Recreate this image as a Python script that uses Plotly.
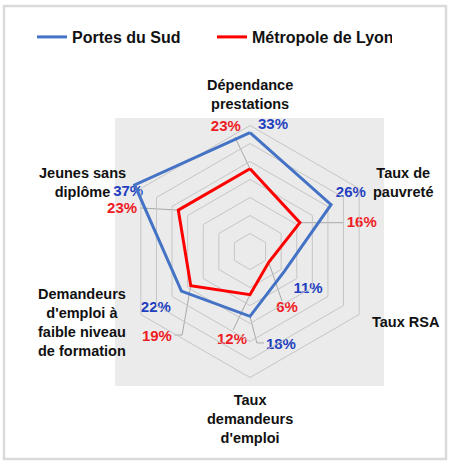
import math
import plotly.graph_objects as go

# ---------------- data ----------------
categories = [
    "Dépendance prestations",
    "Taux de pauvreté",
    "Taux RSA",
    "Taux demandeurs d'emploi",
    "Demandeurs d'emploi à faible niveau de formation",
    "Jeunes sans diplôme",
]
category_labels = [
    "Dépendance<br>prestations",
    "Taux de<br>pauvreté",
    "Taux RSA",
    "Taux<br>demandeurs<br>d'emploi",
    "Demandeurs<br>d'emploi à<br>faible niveau<br>de formation",
    "Jeunes sans<br>diplôme",
]
series_names = ["Portes du Sud", "Métropole de Lyon"]
portes_du_sud = [33, 26, 11, 18, 22, 37]
metropole_lyon = [23, 16, 6, 12, 19, 23]
radial_ticks = [5, 10, 15, 20, 25, 30, 35]

# ---------------- style ----------------
W, H = 449, 462
BLUE_LINE = "#4472C4"
RED_LINE = "#FF0000"
BLUE_TXT = "#1F3FBF"
RED_TXT = "#EE1C25"
GRID = "#C6C6C6"
LEADER = "#A8A8A8"
GRID_MAX = 35          # outermost ring
R_RANGE = 45           # radial range (room for values/labels beyond the outer ring)
RING_PX = 126          # pixel radius of the outer ring
CX, CY = 250, 251.5    # centre of the radar (px)
FONT = "Liberation Sans, Arial, sans-serif"

n = len(categories)
angles = [90 - 360 / n * i for i in range(n)]

# data-label offsets relative to each point, in radial units (dx, dy)
blue_lbl_off = [(6.4, 2.1), (5.5, 3.25), (6.6, -4.9), (8.6, -8.0), (-7.1, -4.7), (-1.8, -2.0)]
red_lbl_off = [(-6.7, 11.6), (17.2, -0.1), (5.1, -12.7), (-5.0, -12.6), (-9.4, -14.3), (-15.6, 0.3)]
# leader-line bend points relative to each point (dx, dy)
blue_leaders = {3: [(1.9, -7.4), (3.9, -7.4)]}
red_leaders = {0: [(-4.2, 8.8)], 1: [(12.0, 0.0)], 2: [(3.7, -10.75)], 3: [(-4.7, -9.8)],
               4: [(-2.4, -13.7), (-4.6, -13.7)], 5: [(-10.6, 0.6)]}

# category label centres (px)
cat_pos = [(250, 94), (403, 182), (406, 322), (250, 419), (82, 322), (82, 183)]


def shifted(r, ang, dx, dy):
    x = r * math.cos(math.radians(ang)) + dx
    y = r * math.sin(math.radians(ang)) + dy
    return math.hypot(x, y), math.degrees(math.atan2(y, x))


fig = go.Figure()

# leader lines and value labels on an overlaid linear polar
for vals, offs, leads, col in [
    (portes_du_sud, blue_lbl_off, blue_leaders, BLUE_TXT),
    (metropole_lyon, red_lbl_off, red_leaders, RED_TXT),
]:
    for i, pts in leads.items():
        rr, tt = [vals[i]], [angles[i]]
        for dx, dy in pts:
            r2, t2 = shifted(vals[i], angles[i], dx, dy)
            rr.append(r2)
            tt.append(t2)
        fig.add_trace(go.Scatterpolar(
            r=rr, theta=tt, mode="lines", subplot="polar",
            line=dict(color=LEADER, width=1), showlegend=False,
            hoverinfo="skip", cliponaxis=False))
    lr, lt = [], []
    for i, v in enumerate(vals):
        r2, t2 = shifted(v, angles[i], *offs[i])
        lr.append(r2)
        lt.append(t2)
    fig.add_trace(go.Scatterpolar(
        r=lr, theta=lt, mode="text", subplot="polar",
        text=[f"{v}%" for v in vals],
        textfont=dict(family=FONT, size=15, color=col, weight="bold"),
        showlegend=False, hoverinfo="skip", cliponaxis=False))

# data series on category polar
for name, vals, col in [
    (series_names[0], portes_du_sud, BLUE_LINE),
    (series_names[1], metropole_lyon, RED_LINE),
]:
    fig.add_trace(go.Scatterpolar(
        r=vals + vals[:1], theta=categories + categories[:1],
        mode="lines", name=name, subplot="polar2",
        line=dict(color=col, width=3), cliponaxis=False))

half = RING_PX * R_RANGE / GRID_MAX
domain = dict(x=[(CX - half) / W, (CX + half) / W],
              y=[1 - (CY + half) / H, 1 - (CY - half) / H])

annotations = [
    dict(text=lab, x=px / W, y=1 - py / H, xref="paper", yref="paper",
         showarrow=False, xanchor="center", yanchor="middle",
         font=dict(family=FONT, size=14.5, color="#111111", weight="bold"))
    for lab, (px, py) in zip(category_labels, cat_pos)
]

fig.update_layout(
    width=W, height=H, autosize=False,
    margin=dict(l=0, r=0, t=0, b=0),
    paper_bgcolor="white", plot_bgcolor="white",
    polar=dict(
        domain=domain, bgcolor="rgba(0,0,0,0)",
        angularaxis=dict(type="linear", direction="counterclockwise", rotation=0, visible=False),
        radialaxis=dict(range=[0, R_RANGE], visible=False),
    ),
    polar2=dict(
        domain=domain, bgcolor="rgba(0,0,0,0)", gridshape="linear",
        angularaxis=dict(type="category", categoryarray=categories, direction="clockwise",
                         rotation=90, showgrid=False, showticklabels=False, ticks="",
                         showline=False),
        radialaxis=dict(range=[0, R_RANGE], tickvals=radial_ticks, showticklabels=False,
                        ticks="", showline=False, gridcolor=GRID, gridwidth=1),
    ),
    legend=dict(orientation="h", x=32 / W, xanchor="left", y=1 - 37 / H, yanchor="middle",
                font=dict(family=FONT, size=16, color="#111111", weight="bold"),
                entrywidth=135, entrywidthmode="pixels", bgcolor="rgba(0,0,0,0)",
                itemclick=False),
    shapes=[
        dict(type="rect", xref="paper", yref="paper", x0=115 / W, x1=384 / W,
             y0=1 - 386 / H, y1=1 - 118 / H, fillcolor="#EBEBEB", line=dict(width=0),
             layer="below"),
        dict(type="rect", xref="paper", yref="paper", x0=4 / W, x1=446 / W,
             y0=1 - 459 / H, y1=1 - 6 / H, fillcolor="rgba(0,0,0,0)",
             line=dict(color="#DADADA", width=2.5), layer="below"),
    ],
    annotations=annotations,
)

fig.write_html(
    "out.html",
    config={"displayModeBar": False},
    post_script="document.body.style.margin='0';document.body.style.overflow='hidden';",
)
